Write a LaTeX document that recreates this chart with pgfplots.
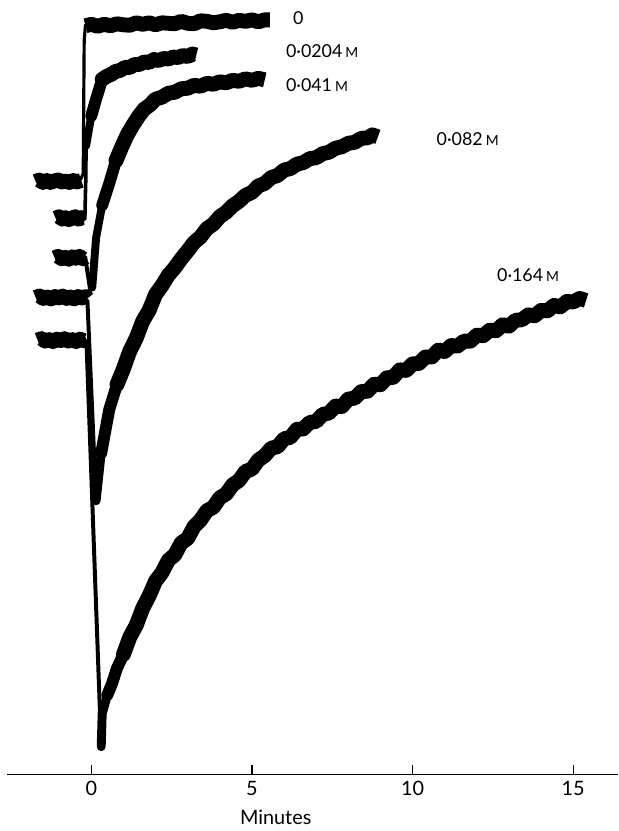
\documentclass[border=0pt]{standalone}
\usepackage{fontspec}
\setmainfont{Lato}
\usepackage{pgfplots}
\pgfplotsset{compat=1.18}
\begin{document}
\begin{tikzpicture}
\begin{axis}[
  scale only axis, width=308pt, height=390.5pt,
  xmin=-2.62, xmax=16.39, ymin=0, ymax=781,
  axis x line=bottom, axis y line=none,
  x axis line style={-, line width=0.7pt},
  xtick={0,5,10,15}, tick align=inside, major tick length=5pt,
  xtick style={line width=0.7pt, black},
  ytick=\empty,
  /pgf/number format/assume math mode=true,
  ticklabel style={font=\fontsize{10}{12}\selectfont},
  clip=false,
  every axis plot/.append style={black, no markers, line join=round},
]
\path (axis cs:-2.84,781) (axis cs:16.39,-50);
% ---- trace 0 ----
\addplot[line width=7.5pt] coordinates {(-1.73,598) (-1.62,599.5) (-1.50,597) (-1.38,599) (-1.27,597) (-1.15,598.5) (-1.03,599.5) (-0.92,597.5) (-0.80,598.5) (-0.68,597) (-0.56,599) (-0.45,597.5) (-0.31,599)};
\addplot[line width=1.6pt, line cap=round] coordinates {(-0.33,600) (-0.25,606) (-0.22,740) (-0.18,756)};
\addplot[line width=7.5pt] coordinates {(-0.18,755) (0.0,756.5) (0.2,754.5) (0.4,756.5) (0.6,755) (0.8,757) (1.0,756) (1.2,755.5) (1.4,758) (1.6,756.5) (1.8,758) (2.0,756) (2.2,758) (2.4,757.5) (2.6,757) (2.8,759.5) (3.0,757.5) (3.2,757) (3.4,760) (3.6,759.5) (3.8,758) (4.0,759) (4.2,760.5) (4.4,758.5) (4.6,760.5) (4.8,759.5) (5.0,761) (5.2,759) (5.4,761) (5.56,761)};
% ---- trace 0.0204 M ----
\addplot[line width=7.5pt] coordinates {(-1.11,561) (-1.0,562.5) (-0.9,560) (-0.8,561.5) (-0.7,559.5) (-0.6,561) (-0.5,562.5) (-0.4,560) (-0.3,561.5) (-0.19,560.5)};
\addplot[line width=1.8pt, line cap=round] coordinates {(-0.2,560) (-0.17,600) (-0.16,634)};
\addplot[line width=4pt, line cap=round] coordinates {(-0.16,634) (0.0,664) (0.15,681)};
\addplot[line width=6pt, line cap=round] coordinates {(0.0,664) (0.15,681) (0.34,701)};
\addplot[line width=7.5pt, line cap=round] coordinates {(0.34,701) (0.48,704) (0.62,706)};
\addplot[line width=7.5pt] coordinates {(0.62,706) (0.76,709) (0.90,710) (1.05,713) (1.20,713) (1.35,716) (1.50,716) (1.65,718.5) (1.80,718) (1.95,721) (2.10,720) (2.25,722) (2.40,721.5) (2.55,723.5) (2.70,723) (2.85,725) (3.00,724) (3.15,726.5) (3.27,725.5)};
% ---- trace 0.041 M ----
\addplot[line width=7.5pt] coordinates {(-1.14,521) (-1.03,522.5) (-0.92,520) (-0.81,521.5) (-0.70,519.5) (-0.59,522) (-0.48,520.5) (-0.37,522.5) (-0.26,520) (-0.19,521.5)};
\addplot[line width=2pt, line cap=round] coordinates {(-0.19,522) (-0.03,488) (0.03,491)};
\addplot[line width=4pt, line cap=round] coordinates {(0.03,491) (0.15,541) (0.34,574) (0.56,596)};
\addplot[line width=6pt, line cap=round] coordinates {(0.34,574) (0.56,596) (0.77,619)};
\addplot[line width=7.5pt, line cap=round] coordinates {(0.77,619) (0.95,633) (1.12,645)};
\addplot[line width=7.5pt] coordinates {(1.12,645) (1.30,655) (1.48,664) (1.65,671) (1.82,675) (2.0,681) (2.2,683) (2.4,687) (2.6,688) (2.8,691.5) (3.0,692) (3.2,695) (3.4,694) (3.6,697) (3.8,696) (4.0,698.5) (4.2,697.5) (4.4,700) (4.6,699) (4.8,701.5) (5.0,700) (5.2,702) (5.40,700.5)};
% ---- trace 0.082 M ----
\addplot[line width=7.5pt] coordinates {(-1.73,481) (-1.61,482.5) (-1.49,480) (-1.37,481.5) (-1.25,479.5) (-1.13,482) (-1.01,480.5) (-0.89,482.5) (-0.77,480) (-0.65,481.5) (-0.53,479.5) (-0.41,482) (-0.29,480.5) (-0.17,482) (-0.12,480)};
\addplot[line width=2pt, line cap=round] coordinates {(-0.12,478) (0.15,276)};
\addplot[line width=4.5pt, line cap=round] coordinates {(0.15,276) (0.31,324) (0.56,368)};
\addplot[line width=6pt, line cap=round] coordinates {(0.31,324) (0.56,368) (0.80,393)};
\addplot[line width=7.5pt, line cap=round] coordinates {(0.80,393) (1.0,409) (1.2,427)};
\addplot[line width=7.5pt] coordinates {(1.2,427) (1.4,440) (1.6,457) (1.8,468) (2.0,484) (2.2,493) (2.4,503.5) (2.6,511) (2.8,520) (3.0,528) (3.2,536.5) (3.4,542) (3.6,550.5) (3.8,555) (4.0,562.5) (4.2,567) (4.4,573.5) (4.6,578) (4.8,584) (5.0,587) (5.2,593.5) (5.4,596) (5.6,602) (5.8,604) (6.0,609.5) (6.2,611) (6.4,615.5) (6.6,617) (6.8,621) (7.0,622) (7.2,626) (7.4,627.5) (7.6,631.5) (7.8,633) (8.0,636.5) (8.2,637.5) (8.4,641.5) (8.6,642) (8.75,645) (8.92,643)};
% ---- trace 0.164 M ----
\addplot[line width=7.5pt] coordinates {(-1.67,438) (-1.55,439.5) (-1.43,437) (-1.31,438.5) (-1.19,436.5) (-1.07,439) (-0.95,437.5) (-0.83,439.5) (-0.71,437) (-0.59,438.5) (-0.47,436.5) (-0.35,439) (-0.23,437.5) (-0.15,438.5)};
\addplot[line width=2pt, line cap=round] coordinates {(-0.15,437) (0.31,28)};
\addplot[line width=4.5pt, line cap=round] coordinates {(0.31,28) (0.34,61) (0.5,80) (0.65,92)};
\addplot[line width=6pt, line cap=round] coordinates {(0.5,80) (0.65,92) (0.8,107) (1.0,121)};
\addplot[line width=7.5pt, line cap=round] coordinates {(1.0,121) (1.2,138.5) (1.4,150.5)};
\addplot[line width=7.5pt] coordinates {(1.4,150.5) (1.6,167.5) (1.8,180) (2.0,195) (2.2,203.5) (2.4,216) (2.6,221.5) (2.8,233.5) (3.0,238) (3.2,250) (3.4,256.5) (3.6,266) (3.8,269.5) (4.0,279) (4.2,283) (4.4,292) (4.6,296.5) (4.8,305.5) (5.0,308) (5.2,317) (5.4,321.5) (5.6,329) (5.8,330.5) (6.0,338.5) (6.2,340) (6.4,348) (6.6,348.5) (6.8,355) (7.0,356) (7.2,363) (7.4,364.5) (7.6,371.5) (7.8,371) (8.0,378.5) (8.2,379.5) (8.4,386) (8.6,386.5) (8.8,393.5) (9.0,393) (9.2,400) (9.4,400.5) (9.6,408) (9.8,407.5) (10.0,414) (10.2,414.5) (10.4,421) (10.6,421) (10.8,428) (11.0,426.5) (11.2,432.5) (11.4,432) (11.6,437) (11.8,437) (12.0,443) (12.2,442.5) (12.4,448) (12.6,447.5) (12.8,453.5) (13.0,452) (13.2,458) (13.4,458.5) (13.6,463.5) (13.8,462.5) (14.0,468) (14.2,467.5) (14.4,473) (14.6,471.5) (14.8,477) (15.0,476.5) (15.2,480) (15.4,478)};
% ---- labels ----
\node[anchor=west, inner sep=0pt, font=\fontsize{9}{11}\selectfont] at (axis cs:6.27,763) {0};
\node[anchor=west, inner sep=0pt, font=\fontsize{9}{11}\selectfont] at (axis cs:6.05,729) {0·0204\,{\fontsize{7}{8}\selectfont M}};
\node[anchor=west, inner sep=0pt, font=\fontsize{9}{11}\selectfont] at (axis cs:6.05,695) {0·041\,{\fontsize{7}{8}\selectfont M}};
\node[anchor=west, inner sep=0pt, font=\fontsize{9}{11}\selectfont] at (axis cs:10.74,641) {0·082\,{\fontsize{7}{8}\selectfont M}};
\node[anchor=west, inner sep=0pt, font=\fontsize{9}{11}\selectfont] at (axis cs:12.62,504) {0·164\,{\fontsize{7}{8}\selectfont M}};
\node[font=\fontsize{10}{12}\selectfont] at (axis cs:5.74,-43) {Minutes};
\end{axis}
\end{tikzpicture}
\end{document}
